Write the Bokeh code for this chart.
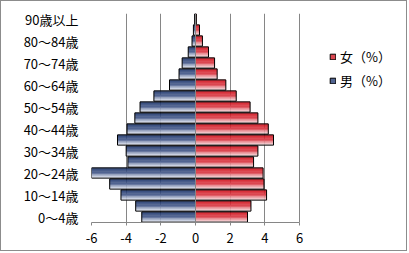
from bokeh.plotting import figure
from bokeh.models import Range1d, FixedTicker, Legend, LegendItem, Span, ColumnDataSource
from bokeh.embed import file_html
from bokeh.resources import INLINE

# ---- data ----
age_groups = ["0～4歳", "5～9歳", "10～14歳", "15～19歳", "20～24歳", "25～29歳",
              "30～34歳", "35～39歳", "40～44歳", "45～49歳", "50～54歳", "55～59歳",
              "60～64歳", "65～69歳", "70～74歳", "75～79歳", "80～84歳", "85～89歳",
              "90歳以上"]
male = [-3.1, -3.45, -4.3, -4.95, -6.0, -3.9, -4.0, -4.5, -3.95, -3.5, -3.2, -2.4,
        -1.5, -0.95, -0.77, -0.42, -0.2, -0.12, -0.05]
female = [3.0, 3.2, 4.1, 3.95, 3.9, 3.35, 3.6, 4.5, 4.2, 3.6, 3.15, 2.35,
          1.75, 1.25, 1.1, 0.75, 0.4, 0.23, 0.05]
x_ticks = [-6, -4, -2, 0, 2, 4, 6]
x_tick_labels = ["-6", "-4", "-2", "0", "2", "4", "6"]
series_labels = ["女（%）", "男（%）"]

FONT = "Noto Sans CJK JP"
GRAY = "#868686"
BLUE_TOP, BLUE_BOT = "#18306a", "#e2e7f2"
RED_TOP, RED_BOT = "#d00c18", "#f7dadd"

# plot frame: value axis occupies 208 px of a 317 px wide frame,
# the rest of the frame (right) holds the legend
AXIS_PX, FRAME_PX = 208, 317
x_end = x_ticks[0] + (x_ticks[-1] - x_ticks[0]) * FRAME_PX / AXIS_PX


def hex2rgb(h):
    h = h.lstrip("#")
    return tuple(int(h[i:i + 2], 16) for i in (0, 2, 4))


def mix(c1, c2, t):
    a, b = hex2rgb(c1), hex2rgb(c2)
    return "#%02x%02x%02x" % tuple(round(a[j] + (b[j] - a[j]) * t) for j in range(3))


p = figure(width=407, height=251, output_backend="svg", toolbar_location=None,
           x_range=Range1d(x_ticks[0], x_end),
           y_range=Range1d(-0.5, len(age_groups) - 0.5),
           min_border_left=90, min_border_right=0, min_border_top=12,
           min_border_bottom=30)
p.styles = {"border": "1px solid #8c8c8c"}
p.outline_line_color = None
p.background_fill_color = "white"
p.border_fill_color = "white"

BAR_H = 0.93
N = 12
idx = list(range(len(age_groups)))


def strip_source(vals, top, bot):
    # rows ordered bar by bar: row = i * N + k (k = strip from top)
    d = dict(y=[], left=[], right=[], color=[])
    for i, v in enumerate(vals):
        for k in range(N):
            d["y"].append(i + BAR_H / 2 - (k + 0.5) * BAR_H / N)
            d["left"].append(min(0, v))
            d["right"].append(max(0, v))
            d["color"].append(mix(top, bot, (k / (N - 1)) ** 1.6))
    return ColumnDataSource(d)


renderers = {}
for name, vals, top, bot in (("m", male, BLUE_TOP, BLUE_BOT),
                             ("f", female, RED_TOP, RED_BOT)):
    rs = p.hbar(y="y", left="left", right="right", height=BAR_H / N * 1.2,
                fill_color="color", line_color=None,
                source=strip_source(vals, top, bot))
    ro = p.hbar(y=idx, left=[min(0, v) for v in vals], right=[max(0, v) for v in vals],
                height=BAR_H, fill_color=None, line_color="black", line_width=1)
    renderers[name] = (rs, ro)

p.add_layout(Span(location=0, dimension="height", line_color=GRAY, line_width=1))

# legend swatch: a mid-tone strip of the first bar, plus the black outline
swatch_index = 5
legend = Legend(items=[LegendItem(label=series_labels[0], renderers=list(renderers["f"]),
                                  index=swatch_index),
                       LegendItem(label=series_labels[1], renderers=list(renderers["m"]),
                                  index=swatch_index)],
                location=(238, 130), glyph_width=7, glyph_height=7,
                label_height=24, spacing=0, padding=0, margin=0,
                label_standoff=4, border_line_color=None,
                background_fill_alpha=0, label_text_font=FONT,
                label_text_font_size="13px", label_text_color="black")
p.add_layout(legend)

# x axis
xa = p.xaxis[0]
xa.ticker = FixedTicker(ticks=x_ticks)
xa.bounds = (x_ticks[0], x_ticks[-1])
xa.major_label_overrides = {t: l for t, l in zip(x_ticks, x_tick_labels)}
xa.axis_line_color = GRAY
xa.major_tick_line_color = GRAY
xa.major_tick_in = 0
xa.major_tick_out = 3
xa.minor_tick_line_color = None
xa.major_label_standoff = 7
xa.major_label_text_font = FONT
xa.major_label_text_font_size = "13px"
xa.major_label_text_color = "black"

# y axis (every other category labelled)
ya = p.yaxis[0]
ya.ticker = FixedTicker(ticks=idx[::2])
ya.major_label_overrides = {i: age_groups[i] for i in idx[::2]}
ya.axis_line_color = None
ya.major_tick_line_color = None
ya.minor_tick_line_color = None
ya.major_tick_in = 0
ya.major_tick_out = 0
ya.major_label_standoff = 13
ya.major_label_text_font = FONT
ya.major_label_text_font_size = "13px"
ya.major_label_text_color = "black"

p.xgrid.ticker = FixedTicker(ticks=x_ticks)
p.xgrid.grid_line_color = GRAY
p.xgrid.grid_line_width = 1
p.ygrid.grid_line_color = None

open("out.html", "w").write(file_html(p, INLINE))
